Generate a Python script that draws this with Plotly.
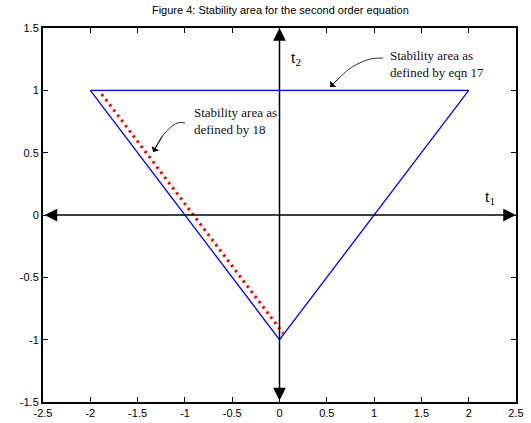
import plotly.graph_objects as go

# Data
tri_x = [-2, 2, 0, -2]
tri_y = [1, 1, -1, 1]
red_x = [-1.88, 0.04]
red_y = [0.97, -0.95]
x_ticks = [-2.5, -2, -1.5, -1, -0.5, 0, 0.5, 1, 1.5, 2, 2.5]
x_ticklabels = ["-2.5", "-2", "-1.5", "-1", "-0.5", "0", "0.5", "1", "1.5", "2", "2.5"]
y_ticks = [-1.5, -1, -0.5, 0, 0.5, 1, 1.5]
y_ticklabels = ["-1.5", "-1", "-0.5", "0", "0.5", "1", "1.5"]

# callout leader curves (decoration)
lead1_x = [-0.997, -1.081, -1.229, -1.335]
lead1_y = [0.738, 0.738, 0.642, 0.505]
lead2_x = [1.096, 0.958, 0.768, 0.641, 0.535]
lead2_y = [1.259, 1.251, 1.187, 1.107, 1.027]

fig = go.Figure()
fig.add_trace(go.Scatter(x=tri_x, y=tri_y, mode="lines",
                         line=dict(color="#0000ff", width=1.3), showlegend=False))
fig.add_trace(go.Scatter(x=red_x, y=red_y, mode="lines",
                         line=dict(color="#ff0000", width=3, dash="2.5px,4px"), showlegend=False))
for lx, ly in ((lead1_x, lead1_y), (lead2_x, lead2_y)):
    fig.add_trace(go.Scatter(x=lx, y=ly, mode="lines",
                             line=dict(color="black", width=0.8, shape="spline"),
                             showlegend=False, hoverinfo="skip"))

serif = "Liberation Serif, Times New Roman, serif"
ann = []
# coordinate axes arrows
ann.append(dict(x=2.5, y=0, ax=-2.5, ay=0, xref="x", yref="y", axref="x", ayref="y",
                text="", showarrow=True, arrowhead=2, arrowside="end+start",
                arrowsize=1.7, arrowwidth=1.5, arrowcolor="black"))
ann.append(dict(x=0, y=1.5, ax=0, ay=-1.5, xref="x", yref="y", axref="x", ayref="y",
                text="", showarrow=True, arrowhead=2, arrowside="end+start",
                arrowsize=1.7, arrowwidth=1.5, arrowcolor="black"))
# axis names
ann.append(dict(x=0.176, y=1.259, xref="x", yref="y", text="t<sub>2</sub>", showarrow=False,
                font=dict(family=serif, size=16, color="black")))
ann.append(dict(x=2.225, y=0.144, xref="x", yref="y", text="t<sub>1</sub>", showarrow=False,
                font=dict(family=serif, size=16, color="black")))
# callouts
ann.append(dict(x=-0.923, y=0.758, xref="x", yref="y", xanchor="left", align="left",
                text="Stability area as<br>defined by 18", showarrow=False,
                font=dict(family=serif, size=13, color="#111")))
ann.append(dict(x=lead1_x[-1], y=lead1_y[-1], ax=lead1_x[-2], ay=lead1_y[-2],
                xref="x", yref="y", axref="x", ayref="y",
                text="", showarrow=True, arrowhead=1, arrowsize=1.8, arrowwidth=0.8,
                arrowcolor="black"))
ann.append(dict(x=1.148, y=1.215, xref="x", yref="y", xanchor="left", align="left",
                text="Stability area as<br>defined by eqn 17", showarrow=False,
                font=dict(family=serif, size=13, color="#111")))
ann.append(dict(x=lead2_x[-1], y=lead2_y[-1], ax=lead2_x[-2], ay=lead2_y[-2],
                xref="x", yref="y", axref="x", ayref="y",
                text="", showarrow=True, arrowhead=1, arrowsize=1.8, arrowwidth=0.8,
                arrowcolor="black"))

fig.update_layout(
    width=531, height=423,
    margin=dict(l=43, r=15, t=28, b=21, autoexpand=False),
    paper_bgcolor="white", plot_bgcolor="white",
    title=dict(text="Figure 4: Stability area for the second order equation",
               x=0.528, xanchor="center", y=0.985, yanchor="top", automargin=False,
               font=dict(family="Liberation Sans, Arial, sans-serif", size=11, color="black")),
    font=dict(family="Liberation Sans, Arial, sans-serif", size=11, color="black"),
    annotations=ann,
    showlegend=False,
)
fig.update_xaxes(range=[-2.5, 2.5], tickvals=x_ticks, ticktext=x_ticklabels, automargin=False,
                 ticks="inside", ticklen=5, tickwidth=1, tickcolor="black",
                 showline=True, linecolor="black", linewidth=2, mirror="ticks",
                 showgrid=False, zeroline=False)
fig.update_yaxes(range=[-1.5, 1.5], tickvals=y_ticks, ticktext=y_ticklabels, automargin=False,
                 ticks="inside", ticklen=5, tickwidth=1, tickcolor="black",
                 showline=True, linecolor="black", linewidth=2, mirror="ticks",
                 showgrid=False, zeroline=False)

fig.write_html("out.html")
